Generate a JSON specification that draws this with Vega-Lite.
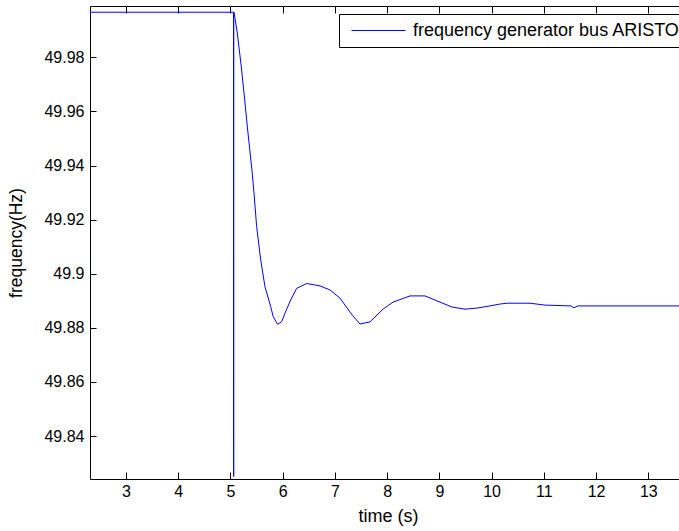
{
  "$schema": "https://vega.github.io/schema/vega-lite/v6.json",
  "width": 589,
  "height": 473,
  "autosize": {"type": "none"},
  "padding": {"left": 90, "top": 6, "right": 0, "bottom": 52},
  "background": "white",
  "config": {
    "view": {"stroke": null},
    "font": "Liberation Sans",
    "axis": {"labelFont": "Liberation Sans", "titleFont": "Liberation Sans", "labelColor": "#000000", "titleColor": "#000000", "domainColor": "#000000", "tickColor": "#000000", "grid": false, "titleFontWeight": "normal"}
  },
  "data": {"values": [
    {"t": 2.311, "f": 49.9967, "s": "frequency generator bus ARISTO"},
    {"t": 5.061, "f": 49.9967, "s": "frequency generator bus ARISTO"},
    {"t": 5.0615, "f": 49.825, "s": "frequency generator bus ARISTO"},
    {"t": 5.062, "f": 49.9967, "s": "frequency generator bus ARISTO"},
    {"t": 5.068, "f": 49.9967, "s": "frequency generator bus ARISTO"},
    {"t": 5.131, "f": 49.9890, "s": "frequency generator bus ARISTO"},
    {"t": 5.208, "f": 49.9765, "s": "frequency generator bus ARISTO"},
    {"t": 5.273, "f": 49.9642, "s": "frequency generator bus ARISTO"},
    {"t": 5.336, "f": 49.9520, "s": "frequency generator bus ARISTO"},
    {"t": 5.412, "f": 49.9383, "s": "frequency generator bus ARISTO"},
    {"t": 5.451, "f": 49.9298, "s": "frequency generator bus ARISTO"},
    {"t": 5.502, "f": 49.9174, "s": "frequency generator bus ARISTO"},
    {"t": 5.579, "f": 49.9051, "s": "frequency generator bus ARISTO"},
    {"t": 5.661, "f": 49.8952, "s": "frequency generator bus ARISTO"},
    {"t": 5.771, "f": 49.8878, "s": "frequency generator bus ARISTO"},
    {"t": 5.819, "f": 49.8841, "s": "frequency generator bus ARISTO"},
    {"t": 5.904, "f": 49.8813, "s": "frequency generator bus ARISTO"},
    {"t": 5.981, "f": 49.8823, "s": "frequency generator bus ARISTO"},
    {"t": 6.044, "f": 49.8854, "s": "frequency generator bus ARISTO"},
    {"t": 6.153, "f": 49.8903, "s": "frequency generator bus ARISTO"},
    {"t": 6.268, "f": 49.8946, "s": "frequency generator bus ARISTO"},
    {"t": 6.460, "f": 49.8964, "s": "frequency generator bus ARISTO"},
    {"t": 6.714, "f": 49.8955, "s": "frequency generator bus ARISTO"},
    {"t": 6.906, "f": 49.8940, "s": "frequency generator bus ARISTO"},
    {"t": 7.097, "f": 49.8910, "s": "frequency generator bus ARISTO"},
    {"t": 7.193, "f": 49.8884, "s": "frequency generator bus ARISTO"},
    {"t": 7.340, "f": 49.8845, "s": "frequency generator bus ARISTO"},
    {"t": 7.480, "f": 49.8814, "s": "frequency generator bus ARISTO"},
    {"t": 7.672, "f": 49.8822, "s": "frequency generator bus ARISTO"},
    {"t": 7.921, "f": 49.8869, "s": "frequency generator bus ARISTO"},
    {"t": 8.112, "f": 49.8895, "s": "frequency generator bus ARISTO"},
    {"t": 8.438, "f": 49.8918, "s": "frequency generator bus ARISTO"},
    {"t": 8.725, "f": 49.8918, "s": "frequency generator bus ARISTO"},
    {"t": 9.012, "f": 49.8895, "s": "frequency generator bus ARISTO"},
    {"t": 9.242, "f": 49.8877, "s": "frequency generator bus ARISTO"},
    {"t": 9.491, "f": 49.8869, "s": "frequency generator bus ARISTO"},
    {"t": 9.720, "f": 49.8873, "s": "frequency generator bus ARISTO"},
    {"t": 9.969, "f": 49.8881, "s": "frequency generator bus ARISTO"},
    {"t": 10.161, "f": 49.8888, "s": "frequency generator bus ARISTO"},
    {"t": 10.295, "f": 49.8891, "s": "frequency generator bus ARISTO"},
    {"t": 10.735, "f": 49.8891, "s": "frequency generator bus ARISTO"},
    {"t": 11.022, "f": 49.8884, "s": "frequency generator bus ARISTO"},
    {"t": 11.520, "f": 49.8881, "s": "frequency generator bus ARISTO"},
    {"t": 11.577, "f": 49.8874, "s": "frequency generator bus ARISTO"},
    {"t": 11.654, "f": 49.8881, "s": "frequency generator bus ARISTO"},
    {"t": 13.588, "f": 49.8881, "s": "frequency generator bus ARISTO"}
  ]},
  "layer": [
    {
      "mark": {"type": "line", "clip": true, "strokeWidth": 1},
      "encoding": {
        "x": {"field": "t", "type": "quantitative",
          "scale": {"domain": [2.311, 13.588], "nice": false, "zero": false},
          "axis": {"orient": "bottom", "title": "time (s)", "values": [3,4,5,6,7,8,9,10,11,12,13], "format": "d",
            "labelFontSize": 16, "titleFontSize": 18, "tickSize": -7, "labelPadding": 11, "titlePadding": 8, "titleX": 298, "domainWidth": 1, "labelFlush": false}},
        "y": {"field": "f", "type": "quantitative",
          "scale": {"domain": [49.8241, 49.999], "nice": false, "zero": false},
          "axis": {"orient": "left", "title": "frequency(Hz)", "values": [49.84, 49.86, 49.88, 49.9, 49.92, 49.94, 49.96, 49.98], "format": ".2~f",
            "labelFontSize": 16, "titleFontSize": 17.5, "tickSize": -6, "labelPadding": 12, "titlePadding": 18, "labelFlush": false}},
        "color": {"field": "s", "type": "nominal",
          "scale": {"range": ["#0000ff"]},
          "legend": {"title": null, "orient": "none", "legendX": 249, "legendY": 8, "strokeColor": "#000000", "fillColor": "#ffffff",
            "symbolType": "M-0.444,0H5.556", "symbolSize": 324, "symbolStrokeWidth": 1, "labelOffset": 48, "labelFontSize": 18, "labelFont": "Liberation Sans", "labelColor": "#000000", "padding": 7, "labelLimit": 400}}
      }
    },
    {
      "mark": {"type": "line", "opacity": 0},
      "encoding": {
        "x": {"field": "t", "type": "quantitative",
          "axis": {"orient": "top", "title": null, "labels": false, "values": [3,4,5,6,7,8,9,10,11,12,13], "tickSize": -7, "domainWidth": 1}},
        "y": {"field": "f", "type": "quantitative"}
      }
    }
  ],
  "resolve": {"axis": {"x": "independent"}}
}
